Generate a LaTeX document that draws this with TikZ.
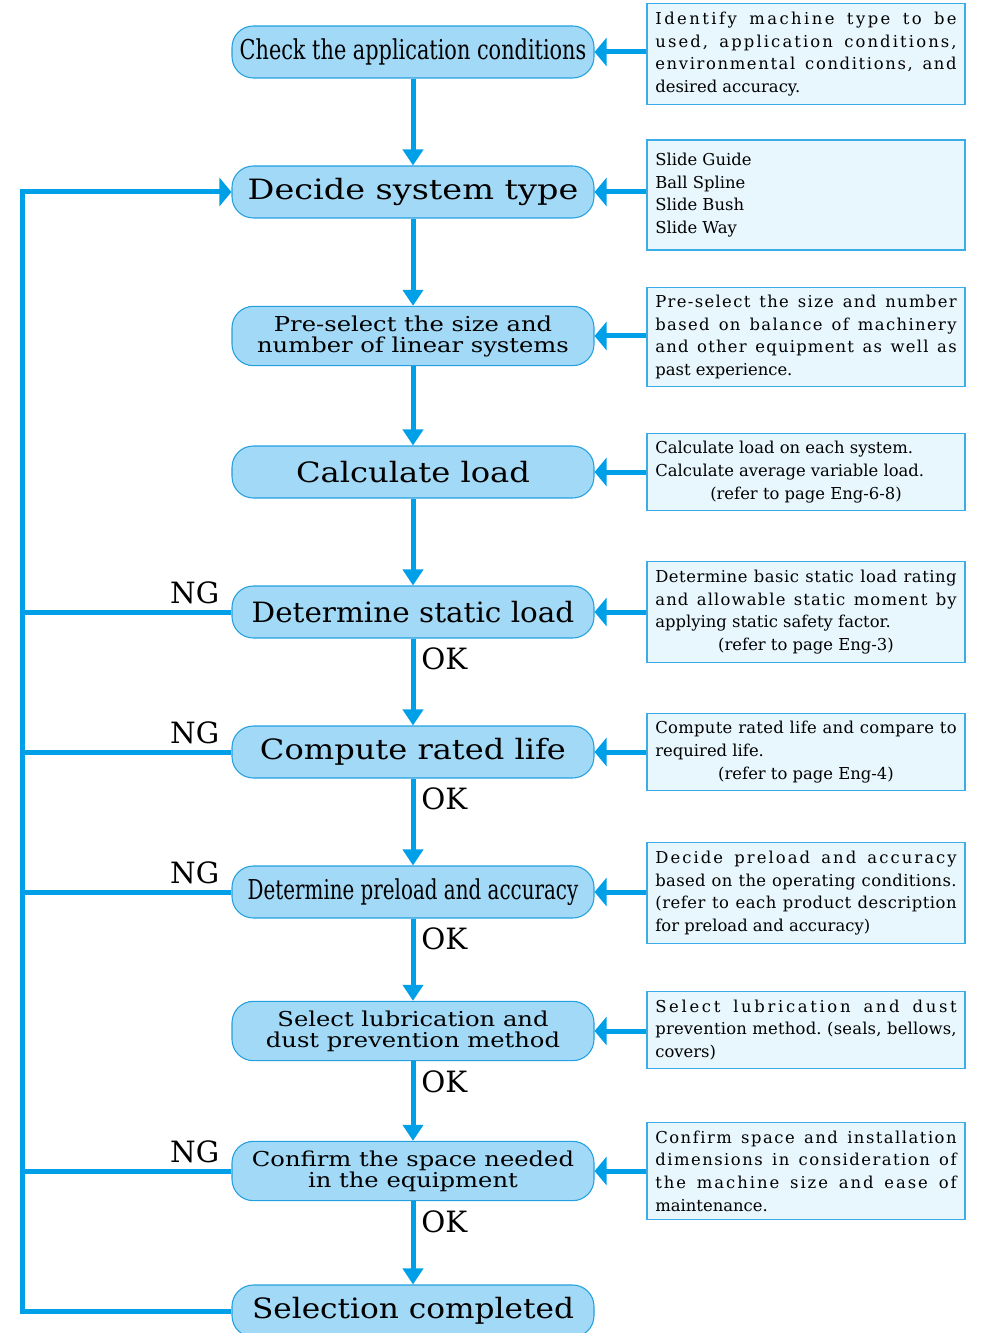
\documentclass[tikz,border=0pt]{standalone}
\usepackage{fontspec}
\usepackage{graphicx}
\setmainfont{DejaVu Serif}
\newfontfamily\stagefont[FakeStretch=1.15]{DejaVu Serif}
\newfontfamily\pairfont[FakeStretch=1.18]{DejaVu Serif}
\newfontfamily\narrowfont[FakeStretch=0.77]{DejaVu Serif}
\usetikzlibrary{arrows.meta, calc}

\definecolor{flowblue}{RGB}{0,160,233}
\definecolor{stagefill}{RGB}{162,217,246}
\definecolor{stageline}{RGB}{35,160,225}
\definecolor{notefill}{RGB}{232,246,253}
\definecolor{noteline}{RGB}{60,172,232}

\newcommand{\bigtxt}{\stagefont\fontsize{21}{24}\selectfont}
\newcommand{\twotxt}{\pairfont\fontsize{15.4}{15.75}\selectfont}
\newcommand{\thintxt}{\narrowfont\fontsize{20.5}{24}\selectfont}
\newcommand{\notetxt}{\fontsize{12.3}{17}\selectfont\hfuzz=4pt}
\newcommand{\fitw}[2]{\resizebox{#1}{\height}{#2}}
\newcommand{\reftxt}[1]{\makebox[\hsize]{#1}}

% one full-width line, spread over letters and words
\ExplSyntaxOn
\NewDocumentCommand \spreadline { m }
  {
    \seq_set_split:Nnn \l_tmpa_seq { ~ } { #1 }
    \hbox_to_wd:nn { \hsize }
      {
        \seq_map_indexed_inline:Nn \l_tmpa_seq
          {
            \int_compare:nNnT { ##1 } > { 1 } { \hskip 0.3em plus 2fil \relax }
            \tl_map_inline:nn { ##2 } { ####1 \hskip 0pt plus 1fil \relax }
          }
        \unskip
      }
    \par
  }
\ExplSyntaxOff

\begin{document}
\begin{tikzpicture}[x=0.75pt, y=-0.75pt,
    stage/.style={draw=stageline, line width=0.8pt, fill=stagefill, rounded corners=16pt,
        minimum width=271.5pt, minimum height=39pt, inner sep=0pt, align=center},
    tall/.style={minimum height=44.5pt},
    note/.style={draw=noteline, line width=0.8pt, fill=notefill, inner xsep=6.25pt,
        inner ysep=6pt, text width=226pt, align=justify, font=\notetxt},
    link/.style={draw=flowblue, line width=3.75pt},
    flow/.style={link, -{Triangle[width=15pt,length=12pt]}},
    feed/.style={link, -{Triangle[width=21pt,length=9pt]}},
    tag/.style={inner sep=0pt, font=\fontsize{22}{22}\selectfont}]
  \useasboundingbox (0,0) rectangle (982,1333);

  % steps
  \node[stage, font=\thintxt] (check) at (413,52) {\fitw{260pt}{Check the application conditions}};
  \node[stage, font=\bigtxt] (decide) at (413,192) {\fitw{248pt}{Decide system type}};
  \node[stage, tall, font=\twotxt] (presel) at (413,336) {Pre-select the size and\\number of linear systems};
  \node[stage, font=\bigtxt] (calc) at (413,472) {\fitw{175.5pt}{Calculate load}};
  \node[stage, font=\bigtxt] (static) at (413,612) {\fitw{242pt}{Determine static load}};
  \node[stage, font=\bigtxt] (life) at (413,752) {\fitw{229.5pt}{Compute rated life}};
  \node[stage, font=\thintxt] (preload) at (413,892) {\fitw{248pt}{Determine preload and accuracy}};
  \node[stage, tall, font=\twotxt] (lube) at (413,1031) {Select lubrication and\\dust prevention method};
  \node[stage, tall, font=\twotxt] (space) at (413,1171) {Confirm the space needed\\in the equipment};
  \node[stage, font=\bigtxt] (done) at (413,1311) {\fitw{241.5pt}{Selection completed}};

  % notes
  \node[note] (n1) at (806,54) {\spreadline{Identify machine type to be}\spreadline{used, application conditions,}\spreadline{environmental conditions, and}desired accuracy.};
  \node[note, minimum height=82.5pt] (n2) at (806,195) {Slide Guide\par Ball Spline\par Slide Bush\par Slide Way};
  \node[note] (n3) at (806,337) {\spreadline{Pre-select the size and number}\spreadline{based on balance of machinery}\spreadline{and other equipment as well as}past experience.};
  \node[note] (n4) at (806,472) {Calculate load on each system.\par Calculate average variable load.\par \reftxt{(refer to page Eng-6-8)}};
  \node[note] (n5) at (806,612) {\spreadline{Determine basic static load rating}\spreadline{and allowable static moment by}applying static safety factor.\par \reftxt{(refer to page Eng-3)}};
  \node[note] (n6) at (806,752) {\spreadline{Compute rated life and compare to}required life.\par \reftxt{(refer to page Eng-4)}};
  \node[note] (n7) at (806,893) {\spreadline{Decide preload and accuracy}\spreadline{based on the operating conditions.}\spreadline{(refer to each product description}for preload and accuracy)};
  \node[note] (n8) at (806,1030) {\spreadline{Select lubrication and dust}\spreadline{prevention method. (seals, bellows,}covers)};
  \node[note] (n9) at (806,1171) {\spreadline{Confirm space and installation}\spreadline{dimensions in consideration of}\spreadline{the machine size and ease of}maintenance.};

  % connectors
  \foreach \a/\b in {check/decide, decide/presel, presel/calc, calc/static, static/life,
      life/preload, preload/lube, lube/space, space/done}
    \draw[flow] (\a.south) -- (\b.north);
  \foreach \n/\s in {n1/check, n2/decide, n3/presel, n4/calc, n5/static, n6/life,
      n7/preload, n8/lube, n9/space}
    \draw[feed] (\n.west |- \s.east) -- (\s.east);

  % NG loop back to system type
  \coordinate (back) at (22,192);
  \draw[feed] (done.west) -| (back) -- (decide.west);
  \foreach \s in {static, life, preload, space} {
    \draw[link] (\s.west) -- (\s.west -| back);
    \node[tag, anchor=base east] (ng-\s) at ([shift={(-12,-9)}]\s.west) {NG};
  }
  \foreach \s in {static, life, preload, lube, space}
    \node[tag, anchor=base west] (ok-\s) at ([shift={(8,31)}]\s.south) {OK};
\end{tikzpicture}
\end{document}
